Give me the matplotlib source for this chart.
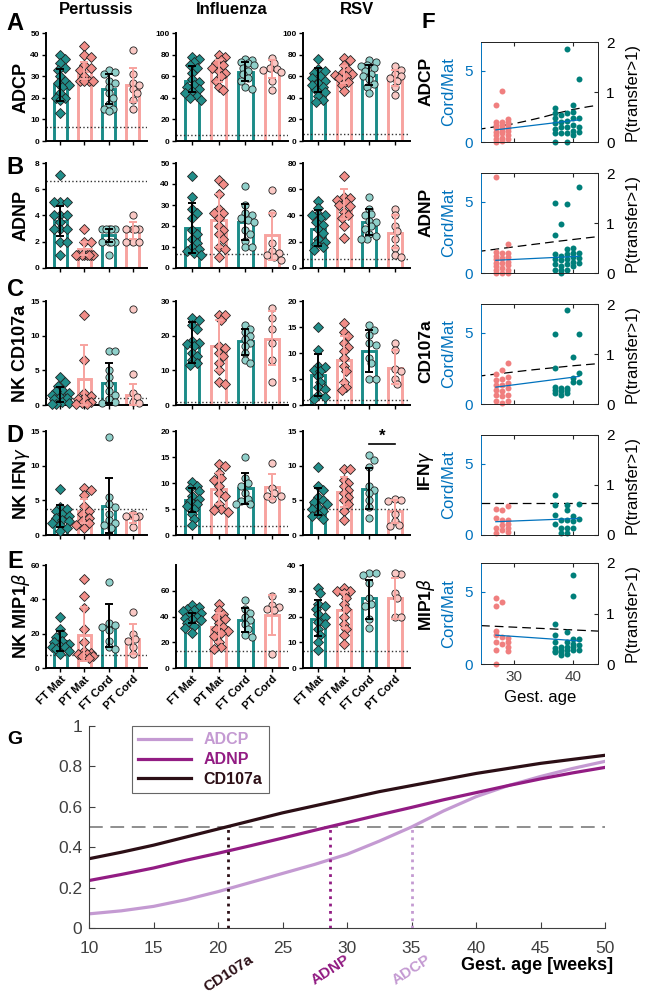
import numpy as np
import matplotlib.pyplot as plt
from matplotlib.transforms import blended_transform_factory

plt.rcParams['font.family'] = ['Liberation Sans', 'DejaVu Sans']
plt.rcParams['mathtext.fontset'] = 'dejavusans'

# ---------------- data ----------------
groups = ['FT Mat', 'PT Mat', 'FT Cord', 'PT Cord']
viruses = ['Pertussis', 'Influenza', 'RSV']
assays = ['ADCP', 'ADNP', 'NK CD107a', r'NK IFN$\gamma$', r'NK MIP1$\beta$']

# ADCP
adcp_pert = [[40, 38, 36, 34, 33, 30, 28, 27, 26, 25, 22, 20, 20, 19, 13],
             [44, 40, 39, 35, 34, 33, 30, 28, 28, 28, 28],
             [33, 32, 31, 28, 27, 25, 22, 20, 17, 15, 15, 14],
             [42, 31, 27, 26, 24, 22, 19, 15]]
adcp_pert_bar = [26, 32.5, 24, 26]
adcp_pert_err = [(18.5, 33.5), (28.5, 36.5), (17, 31), (18, 34)]
adcp_flu = [[78, 76, 73, 70, 68, 63, 57, 55, 52, 50, 48, 46, 44, 42, 40, 38],
            [80, 78, 75, 72, 70, 68, 65, 63, 60, 56, 50, 47],
            [76, 75, 73, 72, 70, 68, 65, 62, 58, 56, 50, 48],
            [77, 72, 68, 67, 66, 64, 56, 47]]
adcp_flu_bar = [56, 65, 64, 66]
adcp_flu_err = [(45, 69), (55, 75), (56, 73), (58, 75)]
adcp_rsv = [[76, 67, 65, 63, 60, 58, 56, 54, 52, 50, 47, 45, 42, 38, 36],
            [77, 75, 70, 66, 63, 62, 61, 60, 58, 55, 52, 46],
            [75, 73, 70, 69, 68, 65, 62, 60, 57, 53, 50, 44],
            [69, 66, 62, 60, 58, 56, 50, 43]]
adcp_rsv_bar = [56, 62, 61, 58]
adcp_rsv_err = [(45, 68), (54, 69), (52, 70), (51, 66)]
adcp_lod = [6.5, 5.5, 6.5]

# ADNP
adnp_pert = [[7.1, 5, 5, 5, 4, 4, 4, 3.5, 3, 3, 3, 2, 2, 1],
             [3, 2, 2, 1, 1, 1, 1, 1, 1, 1, 1],
             [3, 3, 3, 3, 3, 2, 2, 2, 2, 1],
             [4, 3, 3, 3, 3, 2, 2, 2]]
adnp_pert_bar = [3.55, 1.45, 2.5, 2.85]
adnp_pert_err = [(2.4, 4.7), (1, 2), (2, 3), (2.2, 3.5)]
adnp_flu = [[44, 34, 28, 26, 24, 18, 16, 14, 12, 10, 9, 8, 7, 6],
            [42, 40, 35, 28, 26, 26, 24, 20, 18, 16, 14, 10, 9, 5],
            [39, 30, 26, 25, 24, 23, 22, 18, 16, 13, 10, 10],
            [37, 26, 12, 8, 7, 6, 5, 4]]
adnp_flu_bar = [19, 23, 22, 15.5]
adnp_flu_err = [(7, 31), (10, 35), (13.5, 30.5), (4, 26)]
adnp_rsv = [[51, 46, 41, 40, 40, 38, 35, 33, 30, 27, 22, 20, 18, 16, 14],
            [70, 54, 53, 52, 50, 48, 47, 43, 40, 38, 32, 23],
            [54, 45, 41, 40, 36, 35, 32, 30, 26, 24, 22, 22],
            [45, 40, 32, 28, 22, 15, 10, 8]]
adnp_rsv_bar = [30, 48, 35, 27]
adnp_rsv_err = [(17, 44), (37, 60), (25, 45), (15, 40)]
adnp_lod = [6.6, 6.5, 6.5]

# NK CD107a
cd107_pert = [[4, 3.3, 2.8, 2.2, 2, 1.8, 1.5, 1.2, 1, 0.8, 0.5, 0.3, 0.2, 0.1],
              [13, 6.5, 1.8, 1.3, 1, 0.8, 0.5, 0.3, 0.2, 0.1],
              [7.8, 7.8, 5, 4, 3, 2, 1.5, 0.8, 0.5, 0.3],
              [13.8, 4.5, 1.8, 1.2, 0.5, 0.3]]
cd107_pert_bar = [1.5, 3.7, 3.2, 1.5]
cd107_pert_err = [(0.5, 2.6), (0, 8.6), (0.3, 6.1), (0, 3.0)]
cd107_flu = [[25, 24.5, 23, 22, 18.5, 18, 17.5, 17, 15, 14, 13, 12, 11.5],
             [26, 26, 24.5, 17, 16.5, 15, 14, 12, 10, 6.5, 6],
             [23, 22, 21, 20, 19, 18, 17, 15, 13, 12],
             [28, 25, 22, 18, 13, 6.5]]
cd107_flu_bar = [18, 17, 18.5, 19]
cd107_flu_err = [(12, 24), (10, 24.5), (14.5, 22), (11.5, 27)]
cd107_rsv = [[15, 10.6, 7.5, 7.3, 6.8, 6.5, 5.5, 4.5, 3.5, 3, 2, 1.5, 1.2],
             [15.8, 14, 13.3, 12, 11.2, 10.4, 9, 7.5, 6.5, 4.5, 3.5, 2.8],
             [15.3, 14.4, 13.5, 12, 11.5, 9, 8, 5, 5],
             [12, 10.5, 7, 6.5, 5, 4]]
cd107_rsv_bar = [5.8, 8.7, 10.3, 7.2]
cd107_rsv_err = [(1.7, 9.9), (4.2, 13.2), (6.3, 14.5), (4.1, 10.5)]
cd107_lod = [1.0, 1.0, 1.0]

# NK IFNg
ifng_pert = [[6.6, 4, 3.7, 3.4, 3, 2.8, 2.5, 2.2, 2, 1.8, 1.4, 1.0, 0.6],
             [6.8, 6.5, 5.8, 4.2, 3.5, 3, 2.5, 2, 1.7, 1.5, 1.0],
             [14.2, 5.5, 4.5, 4, 3, 2.2, 1.8, 1.5, 1],
             [3, 2.8, 2.6, 2.8, 1.2]]
ifng_pert_bar = [2.7, 3.5, 4.2, 2.5]
ifng_pert_err = [(1.2, 4.3), (1.8, 5.2), (0.3, 8.2), (1.8, 3.2)]
ifng_flu = [[10.2, 9.5, 9, 8.5, 7.5, 7, 6.5, 6, 5.5, 5, 4, 3, 2],
            [13.7, 13.2, 12, 11, 10.5, 9.5, 8, 7.5, 6, 5, 4.8, 4.5],
            [15, 11, 10, 9.5, 8, 7, 6.5, 6, 6],
            [13.9, 9, 8, 7.5, 7.5, 7]]
ifng_flu_bar = [6.7, 8.8, 9, 9.3]
ifng_flu_err = [(4.5, 9), (6, 12), (6, 12), (7, 11.8)]
ifng_rsv = [[9.8, 7, 6.5, 5.5, 5, 4.8, 4.5, 4, 3.8, 3.5, 3, 2.8, 2.3],
            [9.5, 9.5, 8, 7.5, 7, 6.5, 6, 5.5, 5, 4.5, 3.5, 2.2],
            [11.5, 10.8, 9.8, 7, 6.5, 6, 5, 4, 2.5],
            [5.2, 5, 4.9, 3, 2, 1.5, 1.3]]
ifng_rsv_bar = [4.8, 6.2, 6.6, 3.4]
ifng_rsv_err = [(2.9, 6.8), (4, 8.4), (3.7, 9.6), (1.8, 5)]
ifng_lod = [3.7, 1.7, 3.7]

# NK MIP1b
mip_pert = [[30, 23, 20, 18, 16, 15, 14, 13, 12, 12, 11, 10, 8],
            [52, 42, 35, 23, 15, 10, 9, 8, 8, 7, 7, 6],
            [50, 26, 25, 24, 22, 16, 12, 11],
            [32.5, 20, 17, 16, 12, 8]]
mip_pert_bar = [15.5, 19.5, 24.5, 17]
mip_pert_err = [(10, 21.5), (4, 35.5), (12, 37), (8, 25.5)]
mip_flu = [[49, 47, 46, 45, 44, 43, 42, 40, 39, 38, 37, 35, 33, 31, 27],
           [50, 45, 42, 40, 38, 35, 32, 30, 29, 27, 25, 20, 16, 15],
           [53, 46, 43, 40, 37, 34, 30, 26, 24],
           [56, 49, 47, 46, 45, 11]]
mip_flu_bar = [39, 32, 37, 41.5]
mip_flu_err = [(35, 43), (20, 43), (28, 46.5), (26, 57)]
mip_rsv = [[31, 29, 25, 24, 23, 21, 20, 18, 17, 15, 13, 10, 7],
           [31, 30, 30, 29, 27, 25, 23, 20, 17, 15, 13, 9.5],
           [37, 37, 36, 33, 27, 25, 24, 19, 15.5],
           [36.5, 37, 29, 27, 20, 20]]
mip_rsv_bar = [19, 22.5, 27, 27]
mip_rsv_err = [(12.5, 26.5), (15.5, 29.5), (19, 34), (19, 35)]
mip_lod = [7.5, 13, 6.5]

# panel F: cord/maternal ratio by gestational week
f_labels = ['ADCP', 'ADNP', 'CD107a', r'IFN$\gamma$', r'MIP1$\beta$']
f_adcp_pt = {27: [2.6, 1.4, 1.2, 0.95, 0.7, 0.47, 0.24, 0.0],
             28: [3.6, 1.4, 1.2, 1.0, 0.8, 0.6, 0.3, 0.1],
             29: [1.6, 1.4, 1.2, 1.0, 0.8, 0.5, 0.2]}
f_adcp_ft = {37: [2.4, 2.0, 1.65, 1.3, 0.94, 0.6, 0.0], 38: [1.9, 1.4, 1.06, 0.6],
             39: [6.5, 2.0, 1.5, 1.06, 0.6, 0.0], 40: [2.6, 2.1, 1.65, 1.2, 0.8, 0.47],
             41: [4.4, 1.65, 1.06, 0.7]}
f_adnp_pt = {27: [6.7, 1.5, 1.2, 0.95, 0.7, 0.47, 0.23, 0],
             28: [1.4, 1.05, 0.7, 0.35, 0],
             29: [2.0, 1.4, 1.1, 0.8, 0.55, 0.23, 0]}
f_adnp_ft = {37: [4.9, 2.65, 1.3, 0.95, 0.6, 0.23], 38: [3.4, 1.2, 0.9, 0.5, 0.23, 0],
             39: [4.8, 1.65, 1.3, 0.95, 0.6, 0.23], 40: [1.76, 1.4, 1.1, 0.8, 0.47],
             41: [6.0, 1.4, 1.06, 0.7]}
f_cd107_pt = {27: [2.1, 1.7, 1.3, 0.95, 0.6, 0.2],
              28: [2.4, 1.75, 1.35, 0.9, 0.55, 0.1],
              29: [2.85, 1.9, 1.45, 1.1, 0.65, 0.2]}
f_cd107_ft = {37: [4.9, 2.5, 1.2, 0.95, 0.75], 38: [1.1, 0.9, 0.65],
              39: [6.6, 1.1, 0.95, 0.75], 40: [3.3, 1.8, 1.55], 41: [4.9, 2.15, 1.55]}
f_ifng_pt = {27: [1.8, 1.2, 0.47, 0.12], 28: [1.75, 1.05, 0.7, 0.35],
             29: [2.0, 1.05, 0.8, 0.47, 0.23]}
f_ifng_ft = {37: [2.8, 2.1, 1.4, 0.8], 38: [1.05, 0.47, 0.12],
             39: [2.1, 1.75, 1.05, 0.47, 0.12], 40: [1.3, 0.95, 0.47], 41: [2.2, 1.15]}
f_mip_pt = {27: [4.6, 4.0, 2.3, 2.0, 1.5, 1.0, 0.0], 28: [4.3, 1.9, 1.4],
            29: [1.8, 1.5, 1.2, 0.9]}
f_mip_ft = {37: [2.8, 2.0, 1.5, 1.1, 0.9, 0.8], 38: [1.2, 1.0, 0.8, 0.6],
            39: [2.2, 1.5, 1.2, 1.0, 0.7], 40: [6.2, 4.7, 1.7, 1.4, 1.2, 1.0],
            41: [1.7, 1.3, 1.0]}
fit_age = [27, 41]
fit_adcp = [0.85, 1.55]
fit_adnp = [0.89, 1.17]
fit_cd107 = [1.18, 1.93]
fit_ifng = [0.93, 1.16]
fit_mip = [2.0, 1.6]
p_edge_age = [24.5, 44.5]
p_ifng = [0.64, 0.64]
p_mip = [0.76, 0.65]

# panel G: P(transfer>1) vs gestational age
g_age = [10, 12.5, 15, 17.5, 20, 22.5, 25, 27.5, 30, 32.5, 35, 37.5, 40, 42.5, 45, 47.5, 50]
g_adcp = [0.07, 0.085, 0.107, 0.14, 0.18, 0.225, 0.27, 0.315, 0.365, 0.43, 0.5,
          0.58, 0.65, 0.705, 0.75, 0.79, 0.825]
g_adnp = [0.235, 0.265, 0.297, 0.335, 0.37, 0.407, 0.445, 0.484, 0.522, 0.56, 0.597,
          0.635, 0.67, 0.705, 0.738, 0.768, 0.795]
g_cd107 = [0.343, 0.375, 0.41, 0.45, 0.49, 0.53, 0.57, 0.605, 0.64, 0.675, 0.705,
           0.735, 0.765, 0.79, 0.815, 0.835, 0.855]
g_names = ['ADCP', 'ADNP', 'CD107a']
g_cross = [35.0, 28.7, 20.8]
threshold = 0.5

# ---------------- figure ----------------
W, H = 649, 996
fig = plt.figure(figsize=(W / 100, H / 100), dpi=100)


def px(x0, y0, x1, y1):
    return [x0 / W, 1 - y1 / H, (x1 - x0) / W, (y1 - y0) / H]


def ftext(x, y, s, **kw):
    fig.text(x / W, 1 - y / H, s, **kw)


teal = '#1b8c88'
pink = '#f7a39f'
pt_fill = ['#218e8a', '#f28d88', '#8fd0ca', '#fac8c4']
pt_mark = ['D', 'D', 'o', 'o']
bar_edge = [teal, pink, teal, pink]
err_col = ['black', pink, 'black', pink]


def swarm(vals, px_x, px_y, dmark=5.5, step=0.085, maxoff=0.34):
    # compact beeswarm offsets kept inside the bar
    vals = np.asarray(vals, float)
    xs = np.zeros(len(vals))
    placed = []
    nsteps = int(maxoff / step)
    cands = [0.0]
    for k in range(1, nsteps + 1):
        cands += [k * step, -k * step]
    for i in np.argsort(-vals):
        best, bestd = 0.0, -1
        for off in cands:
            d = min([np.hypot((off - a) * px_x, (vals[i] - b) * px_y) for a, b in placed],
                    default=99)
            if d >= dmark:
                best = off
                break
            if d > bestd:
                best, bestd = off, d
        xs[i] = best
        placed.append((best, vals[i]))
    return xs


col_x = [(46, 147), (176, 288), (303, 410)]
row_y = [(33, 141), (163, 268), (301, 405), (431, 535), (565, 668)]
ymax = [[50, 100, 100], [8, 50, 80], [15, 30, 20], [15, 20, 15], [60, 80, 40]]
ystep = [[10, 20, 20], [2, 10, 20], [5, 10, 5], [5, 5, 5], [20, 20, 10]]
ytop = [[50, 100, 100], [8, 50, 80], [15, 30, 20], [15, 20, 15], [60, 60, 40]]

rows = [
    [(adcp_pert, adcp_pert_bar, adcp_pert_err), (adcp_flu, adcp_flu_bar, adcp_flu_err),
     (adcp_rsv, adcp_rsv_bar, adcp_rsv_err), adcp_lod],
    [(adnp_pert, adnp_pert_bar, adnp_pert_err), (adnp_flu, adnp_flu_bar, adnp_flu_err),
     (adnp_rsv, adnp_rsv_bar, adnp_rsv_err), adnp_lod],
    [(cd107_pert, cd107_pert_bar, cd107_pert_err), (cd107_flu, cd107_flu_bar, cd107_flu_err),
     (cd107_rsv, cd107_rsv_bar, cd107_rsv_err), cd107_lod],
    [(ifng_pert, ifng_pert_bar, ifng_pert_err), (ifng_flu, ifng_flu_bar, ifng_flu_err),
     (ifng_rsv, ifng_rsv_bar, ifng_rsv_err), ifng_lod],
    [(mip_pert, mip_pert_bar, mip_pert_err), (mip_flu, mip_flu_bar, mip_flu_err),
     (mip_rsv, mip_rsv_bar, mip_rsv_err), mip_lod],
]

for r, row in enumerate(rows):
    lods = row[3]
    for c in range(3):
        pts, bars, errs = row[c]
        x0, x1 = col_x[c]
        y0, y1 = row_y[r]
        ax = fig.add_axes(px(x0, y0, x1, y1))
        xpos = np.arange(4)
        ax.set_xlim(-0.6, 3.6)
        ax.set_ylim(0, ymax[r][c])
        ax.bar(xpos, bars, width=0.56, color='white', edgecolor=bar_edge,
               linewidth=2.1, zorder=1)
        px_x = (x1 - x0) / 4.2
        px_y = (y1 - y0) / ymax[r][c]
        for g in range(4):
            offs = swarm(pts[g], px_x, px_y)
            ax.plot(xpos[g] + offs, pts[g], linestyle='none', marker=pt_mark[g],
                    ms=4.6 if pt_mark[g] == 'D' else 5.2, mfc=pt_fill[g],
                    mec='#222222', mew=0.6, zorder=3, clip_on=False)
            lo, hi = errs[g]
            ax.errorbar(xpos[g], bars[g], yerr=[[bars[g] - lo], [hi - bars[g]]],
                        fmt='none', ecolor=err_col[g], elinewidth=1.4, capsize=3.2,
                        capthick=1.4, zorder=4)
        ax.axhline(lods[c], color='#333333', ls=':', lw=1.0, zorder=2)
        for s in ['top', 'right']:
            ax.spines[s].set_visible(False)
        for s in ['left', 'bottom']:
            ax.spines[s].set_linewidth(1.4)
        ax.set_yticks(np.arange(0, ytop[r][c] + 0.01, ystep[r][c]))
        ax.set_yticklabels([f'{v:g}' for v in ax.get_yticks()], fontsize=6,
                           fontweight='bold')
        ax.tick_params(axis='y', length=3, width=1, pad=1.5)
        ax.tick_params(axis='x', length=3, width=1, pad=1.5)
        ax.set_xticks(xpos)
        if r == 4:
            ax.set_xticklabels(groups, rotation=45, ha='right', rotation_mode='anchor',
                               fontsize=8, fontweight='bold')
        else:
            ax.set_xticklabels([])
        if r == 3 and c == 2:
            ax.plot([2, 3], [13.1, 13.1], color='black', lw=1.2)
            ax.text(2.5, 13.2, '*', ha='center', va='bottom', fontsize=12,
                    fontweight='bold')

# row labels, column titles, panel letters
for r, name in enumerate(assays):
    ftext(21, (row_y[r][0] + row_y[r][1]) / 2, name, rotation=90, ha='center',
          va='center', fontsize=13, fontweight='bold')
for c, v in enumerate(viruses):
    ftext((col_x[c][0] + col_x[c][1]) / 2, 10, v, ha='center', va='center',
          fontsize=12, fontweight='bold')
for letter, y in zip('ABCDE', [24, 168, 289, 435, 561]):
    ftext(15, y, letter, ha='center', va='center', fontsize=17, fontweight='bold')

# ---------------- panel F ----------------
blue = '#0072bd'
f_rows_y = [(42, 142), (173, 273), (304, 404), (435, 535), (563, 664)]
f_pts = [(f_adcp_pt, f_adcp_ft), (f_adnp_pt, f_adnp_ft), (f_cd107_pt, f_cd107_ft),
         (f_ifng_pt, f_ifng_ft), (f_mip_pt, f_mip_ft)]
f_fit = [fit_adcp, fit_adnp, fit_cd107, fit_ifng, fit_mip]
f_p = [(g_age, g_adcp), (g_age, g_adnp), (g_age, g_cd107), (p_edge_age, p_ifng),
       (p_edge_age, p_mip)]


def flatten(d):
    xs, ys = [], []
    for wk, vals in d.items():
        xs += [wk] * len(vals)
        ys += vals
    return xs, ys


for i, (y0, y1) in enumerate(f_rows_y):
    ax = fig.add_axes(px(481, y0, 598, y1))
    ax2 = ax.twinx()
    ax.set_xlim(24.5, 44.2)
    ax.set_ylim(0, 7)
    ax2.set_ylim(0, 2)
    ax.set_zorder(2)
    ax.patch.set_visible(False)
    ptd, ftd = f_pts[i]
    xs, ys = flatten(ptd)
    ax.plot(xs, ys, 'o', color='#f07f7f', ms=4.3, mec='none', clip_on=False)
    xs, ys = flatten(ftd)
    ax.plot(xs, ys, 'o', color='#007f7a', ms=4.3, mec='none', clip_on=False)
    ax.plot(fit_age, f_fit[i], color=blue, lw=0.9)
    ax2.plot(f_p[i][0], f_p[i][1], color='black', lw=0.9, dashes=(7, 4))
    ax.set_yticks([0, 5])
    ax2.set_yticks([0, 1, 2])
    ax.set_xticks([30, 40])
    for a in (ax, ax2):
        for s in a.spines.values():
            s.set_color('#262626')
            s.set_linewidth(0.7)
        a.spines['left'].set_color(blue)
    ax2.spines['left'].set_visible(False)
    ax.tick_params(axis='y', direction='in', colors=blue, labelsize=11, length=3, pad=6)
    ax2.tick_params(axis='y', direction='in', colors='black', labelsize=11, length=3,
                    pad=6, color='#262626')
    ax.tick_params(axis='x', direction='in', top=True, length=3, colors='#262626',
                   labelcolor='#404040', labelsize=11, pad=4)
    if i < 4:
        ax.set_xticklabels([])
    ftext(426, y0 + 15, f_labels[i], rotation=90, ha='center', va='top',
          fontsize=12.5, fontweight='bold')
    ftext(449, (y0 + y1) / 2, 'Cord/Mat', rotation=90, ha='center', va='center',
          fontsize=12, color=blue)
    ftext(632, (y0 + y1) / 2, 'P(transfer>1)', rotation=90, ha='center', va='center',
          fontsize=12)
ftext(540, 697, 'Gest. age', ha='center', va='center', fontsize=12)
ftext(428, 22, 'F', ha='center', va='center', fontsize=16, fontweight='bold')

# ---------------- panel G ----------------
g_cols = ['#c49ad2', '#921c83', '#2c0f16']
ax = fig.add_axes(px(89, 726, 605, 928))
lines = []
for ys, col, name in zip([g_adcp, g_adnp, g_cd107], g_cols, g_names):
    ln, = ax.plot(g_age, ys, color=col, lw=2.3, label=name)
    lines.append(ln)
ax.axhline(threshold, color='#707070', lw=1.1, dashes=(9, 5), zorder=1)
ax.vlines(g_cross, 0, threshold, colors=g_cols, linestyles=':', lw=2)
ax.set_xlim(10, 50)
ax.set_ylim(0, 1)
ax.set_xticks(np.arange(10, 51, 5))
ax.set_yticks(np.arange(0, 1.01, 0.2))
ax.set_yticklabels(['0', '0.2', '0.4', '0.6', '0.8', '1'])
for s in ['top', 'right']:
    ax.spines[s].set_visible(False)
for s in ['left', 'bottom']:
    ax.spines[s].set_color('#404040')
    ax.spines[s].set_linewidth(0.8)
ax.tick_params(direction='in', length=4, colors='#404040', labelsize=12.5)
ax.tick_params(axis='x', pad=9)
ax.tick_params(axis='y', pad=5)
leg = ax.legend(handles=lines, loc='upper left', bbox_to_anchor=(0.083, 1.0),
                borderaxespad=0, frameon=True, fancybox=False, edgecolor='#404040',
                handlelength=3.3, labelspacing=0.3, borderpad=0.4,
                prop={'weight': 'bold', 'size': 11.5}, labelcolor=g_cols)
leg.get_frame().set_linewidth(0.8)
trans = blended_transform_factory(ax.transData, ax.transAxes)
for age, name, col in zip(g_cross, g_names, g_cols):
    ax.text(age, -0.12, name, transform=trans, rotation=33, ha='center', va='top',
            fontsize=11, fontweight='bold', color=col)
ftext(537, 965, 'Gest. age [weeks]', ha='center', va='center', fontsize=13,
      fontweight='bold')
ftext(15, 739, 'G', ha='center', va='center', fontsize=14, fontweight='bold')

fig.savefig('out.png', dpi=100)
